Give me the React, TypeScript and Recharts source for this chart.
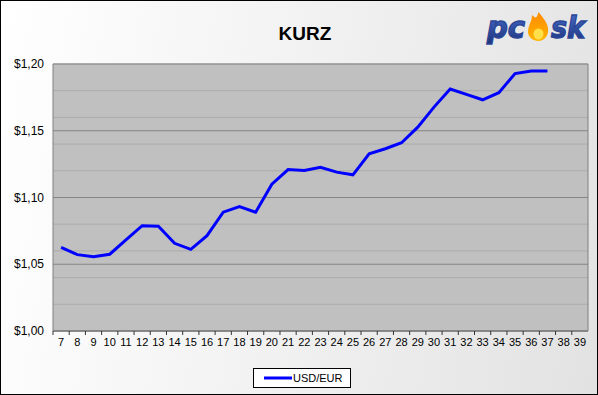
import React from 'react';
import { LineChart, Line, XAxis, YAxis, CartesianGrid } from 'recharts';

const chartTitle = 'KURZ';
const seriesName = 'USD/EUR';

const weeks = [
  '7', '8', '9', '10', '11', '12', '13', '14', '15', '16', '17',
  '18', '19', '20', '21', '22', '23', '24', '25', '26', '27', '28',
  '29', '30', '31', '32', '33', '34', '35', '36', '37', '38', '39',
];

const usdEur: (number | null)[] = [
  1.0627, 1.0572, 1.0557, 1.0575, 1.0682, 1.0789, 1.0785, 1.0657, 1.0612, 1.0714, 1.089,
  1.0932, 1.089, 1.11, 1.1209, 1.1202, 1.1227, 1.119, 1.117, 1.1328, 1.1365, 1.141,
  1.1527, 1.1677, 1.1812, 1.1772, 1.1732, 1.1785, 1.1928, 1.1948, 1.1948, null, null,
];

const majorTicks = [1.0, 1.05, 1.1, 1.15, 1.2];
const minorTicks = [
  1.0, 1.01, 1.02, 1.03, 1.04, 1.05, 1.06, 1.07, 1.08, 1.09, 1.1,
  1.11, 1.12, 1.13, 1.14, 1.15, 1.16, 1.17, 1.18, 1.19, 1.2,
];

const data = weeks.map((w, i) => ({ week: w, usdEur: usdEur[i] }));

const FONT = '"Liberation Sans", Arial, sans-serif';

const formatUsd = (v: number) => '$' + v.toFixed(2).replace('.', ',');

const XTick = (props: any) => {
  const { x, y, payload, width, visibleTicksCount } = props;
  const band = width / visibleTicksCount;
  const bx = x - band / 2;
  const axisY = y - 8;
  return (
    <g>
      <line x1={bx} x2={bx} y1={axisY} y2={axisY + 4} stroke="#333" strokeWidth={1} />
      <text x={x} y={y + 7} textAnchor="middle" fontSize={11} fontFamily={FONT} fill="#000">
        {payload.value}
      </text>
    </g>
  );
};

const YTick = (props: any) => {
  const { y, payload } = props;
  return (
    <text x={44} y={y + 4} textAnchor="end" fontSize={12} fontFamily={FONT} fill="#000">
      {formatUsd(payload.value)}
    </text>
  );
};

export default function App() {
  return (
    <div
      style={{
        position: 'absolute',
        left: 0,
        top: 0,
        width: 598,
        height: 395,
        background: 'linear-gradient(100deg, #ffffff 0%, #f4f4f4 40%, #e2e2e2 100%)',
        boxShadow: 'inset 0 0 0 1px #000',
        overflow: 'hidden',
      }}
    >
      <div style={{ position: 'absolute', left: 0, top: 0 }}>
        <LineChart width={598} height={395} data={data} margin={{ top: 64, right: 9, left: 8, bottom: 44 }}>
          <YAxis yAxisId="minor" hide domain={[1, 1.2]} ticks={minorTicks} type="number" allowDataOverflow />
          <CartesianGrid yAxisId="minor" vertical={false} stroke="#acacac" fill="#c0c0c0" fillOpacity={1} />
          <CartesianGrid yAxisId="main" vertical={false} stroke="#858585" />
          <XAxis
            dataKey="week"
            scale="band"
            height={20}
            interval={0}
            tickLine={false}
            axisLine={{ stroke: '#6a6a6a' }}
            tick={<XTick />}
          />
          <YAxis
            yAxisId="main"
            width={45}
            domain={[1, 1.2]}
            ticks={majorTicks}
            type="number"
            allowDataOverflow
            tickLine={false}
            axisLine={{ stroke: '#808080' }}
            tick={<YTick />}
          />
          <YAxis
            yAxisId="right"
            orientation="right"
            width={1}
            domain={[1, 1.2]}
            type="number"
            tick={false}
            tickLine={false}
            axisLine={{ stroke: '#808080' }}
          />
          <Line
            yAxisId="main"
            dataKey="usdEur"
            name={seriesName}
            stroke="#0000ff"
            strokeWidth={3}
            dot={false}
            isAnimationActive={false}
          />
        </LineChart>
      </div>
      <svg width={598} height={395} style={{ position: 'absolute', left: 0, top: 0, pointerEvents: 'none' }}>
        <defs>
          <linearGradient id="logoBlue" x1="0" y1="0" x2="0" y2="1">
            <stop offset="0%" stopColor="#4a6fd0" />
            <stop offset="100%" stopColor="#1c3278" />
          </linearGradient>
          <linearGradient id="flame" x1="0" y1="0" x2="0" y2="1">
            <stop offset="0%" stopColor="#ff8a00" />
            <stop offset="100%" stopColor="#ffb400" />
          </linearGradient>
        </defs>
        <text x={305} y={40} textAnchor="middle" fontSize={19} fontWeight="bold" fontFamily={FONT} fill="#000">
          {chartTitle}
        </text>
        <g>
          <text
            x={487}
            y={38}
            fontSize={30}
            fontWeight="bold"
            fontStyle="italic"
            fontFamily='"DejaVu Sans", sans-serif'
            fill="url(#logoBlue)"
            stroke="#2a4696"
            strokeWidth={1.4}
            textLength={38}
            lengthAdjust="spacingAndGlyphs"
          >
            pc
          </text>
          <path
            d="M528,32 C528,25 532,22 532,15 C536,19 537,18 538.5,12 C542.5,17 547,22 548,28 C549,36 544,41 538.5,41 C533,41 528,37 528,32 Z"
            fill="url(#flame)"
          />
          <ellipse cx={538.5} cy={34} rx={5} ry={5.5} fill="#ffe04a" />
          <text
            x={551}
            y={38}
            fontSize={30}
            fontWeight="bold"
            fontStyle="italic"
            fontFamily='"DejaVu Sans", sans-serif'
            fill="url(#logoBlue)"
            stroke="#2a4696"
            strokeWidth={1.4}
            textLength={34}
            lengthAdjust="spacingAndGlyphs"
          >
            sk
          </text>
        </g>
        <rect x={253.5} y={368.5} width={97} height={19} fill="#ffffff" stroke="#000" strokeWidth={1} />
        <line x1={264} x2={292} y1={378} y2={378} stroke="#0000ff" strokeWidth={3} />
        <text x={293} y={382} fontSize={11} fontFamily={FONT} fill="#000">
          {seriesName}
        </text>
      </svg>
    </div>
  );
}
